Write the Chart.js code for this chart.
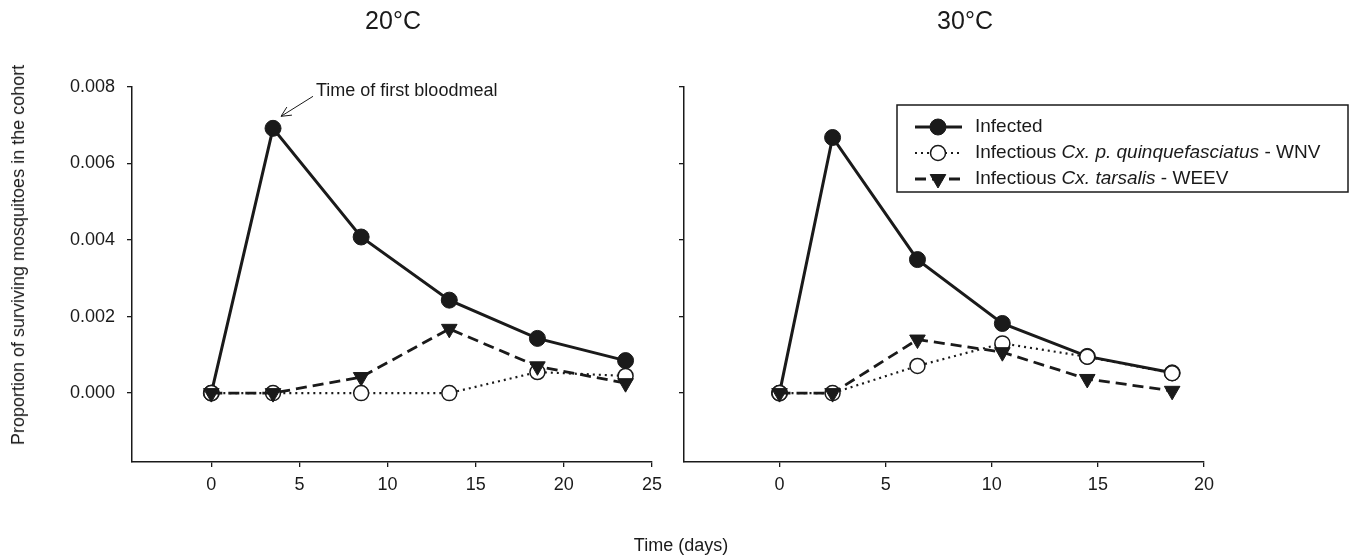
<!DOCTYPE html>
<html>
<head>
<meta charset="utf-8">
<script src="https://cdn.jsdelivr.net/npm/chart.js@4.4.1/dist/chart.umd.min.js"></script>
<style>
  body { margin: 0; background: #fff; }
  #wrap { position: relative; width: 1363px; height: 555px; font-family: "Liberation Sans", Arial, sans-serif; color: #1a1a1a; }
  #wrap canvas { position: absolute; top: 0; }
  .lbl { position: absolute; white-space: nowrap; line-height: 1; transform: translate(-50%, -50%); }
  .panel-title { font-size: 25px; }
  .axis-title { font-size: 18px; }
  #ytitle { transform: translate(-50%, -50%) rotate(-90deg); }
</style>
</head>
<body>
<div id="wrap">
  <canvas id="chart20" width="680" height="555" style="left:0"></canvas>
  <canvas id="chart30" width="693" height="555" style="left:670px"></canvas>
  <div class="lbl panel-title" style="left:393px;top:20px">20°C</div>
  <div class="lbl panel-title" style="left:965px;top:20px">30°C</div>
  <div class="lbl axis-title" id="ytitle" style="left:18px;top:255px">Proportion of surviving mosquitoes in the cohort</div>
  <div class="lbl axis-title" style="left:681px;top:545px">Time (days)</div>
</div>
<script>
const FONT = '"Liberation Sans", Arial, sans-serif';
const INK = '#1a1a1a';

// 20°C cohort
const days20 = [0, 3.5, 8.5, 13.5, 18.5, 23.5];
const infected20 = [0, 0.00692, 0.00408, 0.00243, 0.00143, 0.00085];
const wnv20 = [0, 0, 0, 0, 0.00055, 0.00045];
const weev20 = [0, 0, 0.00042, 0.00168, 0.00070, 0.00026];

// 30°C cohort
const days30 = [0, 2.5, 6.5, 10.5, 14.5, 18.5];
const infected30 = [0, 0.00668, 0.00349, 0.00182, 0.00096, 0.00053];
const wnv30 = [0, 0, 0.00071, 0.00130, 0.00095, 0.00052];
const weev30 = [0, 0, 0.00140, 0.00107, 0.00037, 0.00006];

const xTicks20 = [0, 5, 10, 15, 20, 25];
const xTicks30 = [0, 5, 10, 15, 20];
const yTicks = [0, 0.002, 0.004, 0.006, 0.008];

const seriesNames = ['Infected', 'Infectious Cx. p. quinquefasciatus - WNV', 'Infectious Cx. tarsalis - WEEV'];
// legend text pieces, true = italic
const legendParts = [
  [['Infected', false]],
  [['Infectious ', false], ['Cx. p. quinquefasciatus', true], [' - WNV', false]],
  [['Infectious ', false], ['Cx. tarsalis', true], [' - WEEV', false]]
];

function pts(xs, ys) {
  return xs.map((x, i) => ({ x: x, y: ys[i] }));
}

function makeDatasets(days, inf, wnv, weev) {
  return [
    {
      label: seriesNames[0],
      data: pts(days, inf),
      borderColor: INK, borderWidth: 3,
      pointStyle: 'circle', pointRadius: 8,
      pointBackgroundColor: INK, pointBorderColor: INK, pointBorderWidth: 1,
      order: 2
    },
    {
      label: seriesNames[1],
      data: pts(days, wnv),
      borderColor: INK, borderWidth: 2.2, borderDash: [2, 4],
      pointStyle: 'circle', pointRadius: 7.5,
      pointBackgroundColor: '#fff', pointBorderColor: INK, pointBorderWidth: 1.5,
      order: 1
    },
    {
      label: seriesNames[2],
      data: pts(days, weev),
      borderColor: INK, borderWidth: 2.8, borderDash: [11, 6],
      pointStyle: 'triangle', pointRotation: 180, pointRadius: 9,
      pointBackgroundColor: INK, pointBorderColor: INK, pointBorderWidth: 1,
      order: 0
    }
  ];
}

function makeScales(xTicks, xMax, yWidth, showYLabels) {
  return {
    x: {
      type: 'linear', min: -4.5, max: xMax,
      afterBuildTicks: s => { s.ticks = xTicks.map(v => ({ value: v })); },
      afterFit: s => { s.height = 40; },
      grid: { drawOnChartArea: false, tickLength: 5, color: INK, lineWidth: 1.3 },
      border: { color: INK, width: 1.5 },
      ticks: { autoSkip: false, maxRotation: 0, padding: 7, color: INK, font: { family: FONT, size: 18 } }
    },
    y: {
      type: 'linear', min: -0.0018, max: 0.008,
      afterBuildTicks: s => { s.ticks = yTicks.map(v => ({ value: v })); },
      afterFit: s => { s.width = yWidth; },
      grid: { drawOnChartArea: false, tickLength: 5, color: INK, lineWidth: 1.3 },
      border: { color: INK, width: 1.5 },
      ticks: {
        padding: 12, color: INK, font: { family: FONT, size: 18 },
        callback: v => showYLabels ? v.toFixed(3) : ''
      }
    }
  };
}

// arrow + note pointing at the first bloodmeal peak
const bloodmealNote = {
  id: 'bloodmealNote',
  afterDatasetsDraw(chart) {
    const c = chart.ctx;
    const px = chart.scales.x.getPixelForValue(days20[1]);
    const py = chart.scales.y.getPixelForValue(infected20[1]);
    const tipX = px + 8, tipY = py - 12, tailX = px + 40, tailY = py - 32;
    const ang = Math.atan2(tipY - tailY, tipX - tailX);
    c.save();
    c.strokeStyle = INK;
    c.lineWidth = 1;
    c.beginPath();
    c.moveTo(tailX, tailY);
    c.lineTo(tipX, tipY);
    [-0.45, 0.45].forEach(a => {
      c.moveTo(tipX, tipY);
      c.lineTo(tipX - 11 * Math.cos(ang + a), tipY - 11 * Math.sin(ang + a));
    });
    c.stroke();
    c.fillStyle = INK;
    c.font = '18px ' + FONT;
    c.textBaseline = 'middle';
    c.fillText('Time of first bloodmeal', tailX + 3, tailY - 5);
    c.restore();
  }
};

function drawMarker(c, ds, x, y) {
  const r = ds.pointRadius;
  c.save();
  c.setLineDash([]);
  c.fillStyle = ds.pointBackgroundColor;
  c.strokeStyle = ds.pointBorderColor;
  c.lineWidth = ds.pointBorderWidth;
  c.beginPath();
  if (ds.pointStyle === 'triangle') {
    c.moveTo(x, y + r);
    c.lineTo(x - r * 0.866, y - r / 2);
    c.lineTo(x + r * 0.866, y - r / 2);
    c.closePath();
  } else {
    c.arc(x, y, r, 0, Math.PI * 2);
  }
  c.fill();
  c.stroke();
  c.restore();
}

// boxed legend with italic species names
const boxedLegend = {
  id: 'boxedLegend',
  afterDraw(chart) {
    const c = chart.ctx;
    const left = 227, top = 105, right = 678, bottom = 192;
    c.save();
    c.fillStyle = '#fff';
    c.fillRect(left, top, right - left, bottom - top);
    c.strokeStyle = INK;
    c.lineWidth = 1.5;
    c.strokeRect(left, top, right - left, bottom - top);
    c.textBaseline = 'middle';
    chart.data.datasets.forEach((ds, i) => {
      const y = top + 22 + i * 26;
      c.strokeStyle = ds.borderColor;
      c.lineWidth = ds.borderWidth;
      c.setLineDash(ds.borderDash || []);
      c.beginPath();
      c.moveTo(left + 18, y);
      c.lineTo(left + 65, y);
      c.stroke();
      drawMarker(c, ds, left + 41, y);
      let tx = left + 78;
      c.fillStyle = INK;
      legendParts[i].forEach(p => {
        c.font = (p[1] ? 'italic ' : '') + '19px ' + FONT;
        c.fillText(p[0], tx, y);
        tx += c.measureText(p[0]).width;
      });
    });
    c.restore();
  }
};

var ctx = document.getElementById('chart20').getContext('2d');
var chart20 = new Chart(ctx, {
  type: 'line',
  data: { datasets: makeDatasets(days20, infected20, wnv20, weev20) },
  options: {
    responsive: false,
    animation: false,
    layout: { padding: { left: 0, right: 28, top: 87, bottom: 53 } },
    plugins: { legend: { display: false }, tooltip: { enabled: false } },
    scales: makeScales(xTicks20, 25, 132, true)
  },
  plugins: [bloodmealNote]
});

var ctx2 = document.getElementById('chart30').getContext('2d');
var chart30 = new Chart(ctx2, {
  type: 'line',
  data: { datasets: makeDatasets(days30, infected30, wnv30, weev30) },
  options: {
    responsive: false,
    animation: false,
    layout: { padding: { left: 0, right: 159, top: 87, bottom: 53 } },
    plugins: { legend: { display: false }, tooltip: { enabled: false } },
    scales: makeScales(xTicks30, 20, 14, false)
  },
  plugins: [boxedLegend]
});
</script>
</body>
</html>
